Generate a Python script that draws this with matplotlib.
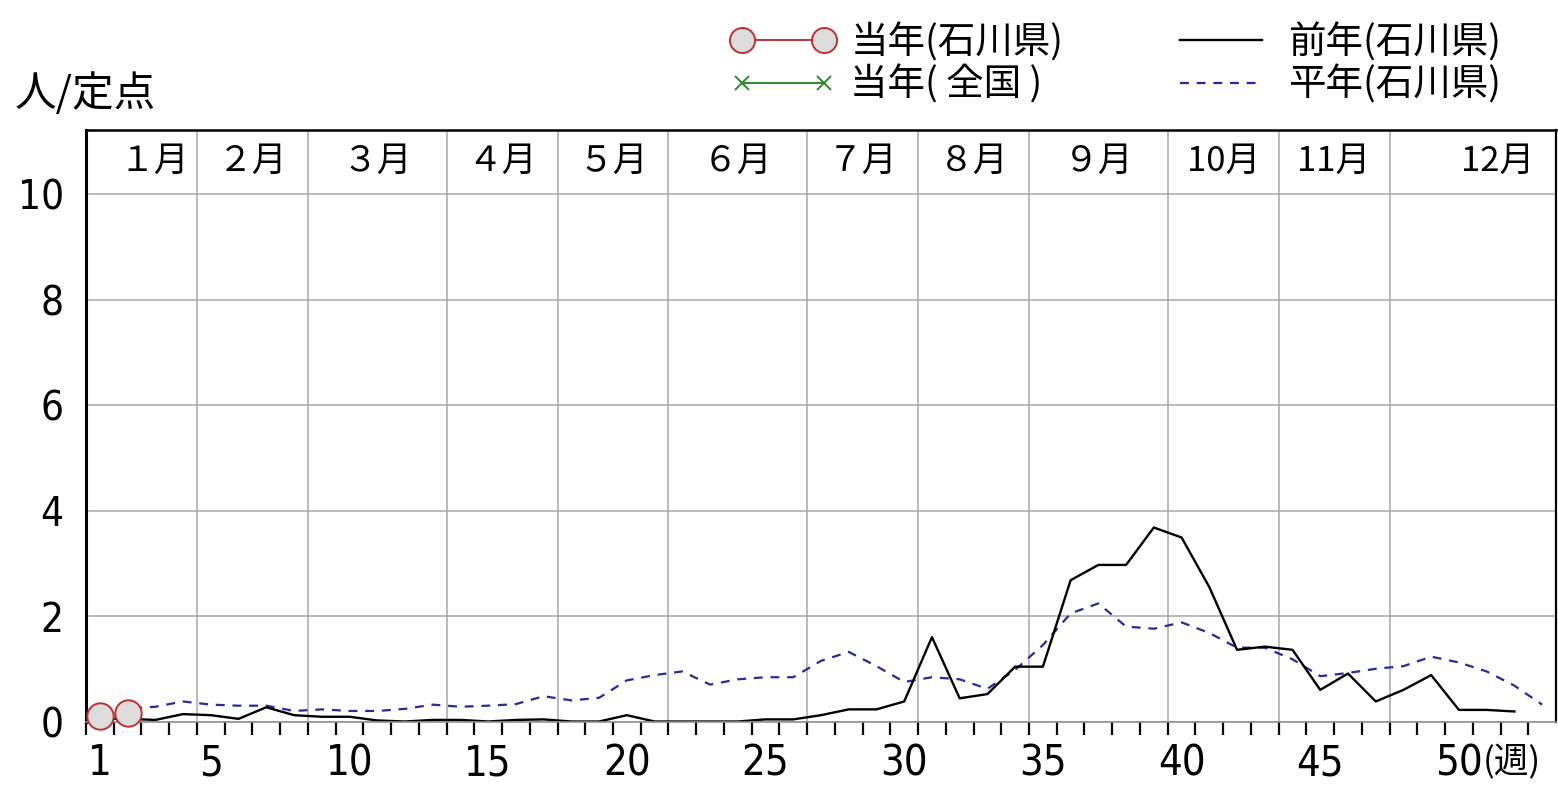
import matplotlib.pyplot as plt
import numpy as np

plt.rcParams['font.family'] = ['Noto Sans CJK JP', 'DejaVu Sans']

# 当年(石川県) - only the first weeks are reported
this_year_pref = [0.10, 0.16]
# 当年(全国) - nothing plotted
this_year_nation = []
# 前年(石川県), weeks 1..52
prev_year = [0.05, 0.05, 0.03, 0.14, 0.12, 0.05, 0.27, 0.12, 0.09, 0.09,
             0.02, 0.00, 0.03, 0.03, 0.00, 0.03, 0.04, 0.00, 0.00, 0.12,
             0.00, 0.00, 0.00, 0.00, 0.04, 0.04, 0.12, 0.23, 0.23, 0.38,
             1.60, 0.44, 0.52, 1.04, 1.04, 2.68, 2.97, 2.97, 3.68, 3.49,
             2.55, 1.36, 1.42, 1.36, 0.60, 0.91, 0.38, 0.60, 0.88, 0.22,
             0.22, 0.19]
# 平年(石川県), weeks 1..53
normal_year = [0.25, 0.25, 0.28, 0.38, 0.32, 0.30, 0.30, 0.20, 0.23, 0.20,
               0.20, 0.24, 0.32, 0.28, 0.30, 0.33, 0.48, 0.40, 0.45, 0.78,
               0.88, 0.95, 0.70, 0.80, 0.84, 0.84, 1.15, 1.32, 1.05, 0.75,
               0.84, 0.80, 0.62, 0.98, 1.45, 2.05, 2.24, 1.80, 1.76, 1.88,
               1.68, 1.40, 1.40, 1.18, 0.86, 0.92, 1.00, 1.05, 1.23, 1.12,
               0.95, 0.68, 0.32]

month_labels = ['１月', '２月', '３月', '４月', '５月', '６月',
                '７月', '８月', '９月', '10月', '11月', '12月']
month_last_week = [4, 8, 13, 17, 21, 26, 30, 34, 39, 43, 47, 53]
week_ticks = [1, 5, 10, 15, 20, 25, 30, 35, 40, 45, 50]

W, H = 1558, 791
fig = plt.figure(figsize=(W / 100, H / 100), dpi=100)
ax = fig.add_axes([86 / W, 1 - 721.5 / H, (1556 - 86) / W, (721.5 - 130) / H])

grid_c = '#a8a8a8'
ax.set_xlim(0.5, 53.5)
ax.set_ylim(0, 11.22)
ax.set_yticks([0, 2, 4, 6, 8, 10])
ax.yaxis.grid(True, color=grid_c, lw=1.1)
for b in month_last_week[:-1]:
    ax.axvline(b + 0.5, color=grid_c, lw=1.1, zorder=0)

# lines
w_norm = np.arange(1, len(normal_year) + 1)
w_prev = np.arange(1, len(prev_year) + 1)
w_this = np.arange(1, len(this_year_pref) + 1)
l_norm, = ax.plot(w_norm, normal_year, color='#2a2a9c', lw=1.6,
                  dashes=(4, 3.5), label='平年(石川県)')
l_prev, = ax.plot(w_prev, prev_year, color='black', lw=1.7,
                  label='前年(石川県)')
l_nat, = ax.plot(np.arange(1, len(this_year_nation) + 1), this_year_nation,
                 color='#2e8b2e', marker='x', ms=10, mew=1.4, lw=1.4,
                 label='当年( 全国 )')
l_this, = ax.plot(w_this, this_year_pref, color='#c03030', marker='o', ms=19,
                  mfc='#dcdcdc', mec='#c03030', mew=1.4, lw=1.4,
                  clip_on=False, zorder=5, label='当年(石川県)')

# month header inside the top band
for i, lab in enumerate(month_labels):
    start = month_last_week[i - 1] + 1 if i > 0 else 1
    end = month_last_week[i]
    if i == 0:
        ax.text(end + 0.2, 10.62, lab, ha='right', va='center', fontsize=25)
    elif i == len(month_labels) - 1:
        ax.text(end - 0.3, 10.62, lab, ha='right', va='center', fontsize=25)
    else:
        ax.text((start + end) / 2, 10.62, lab, ha='center', va='center',
                fontsize=25)

# axes styling
for s in ['left', 'top', 'right']:
    ax.spines[s].set_color('black')
ax.spines['left'].set_linewidth(2.2)
ax.spines['top'].set_linewidth(1.8)
ax.spines['right'].set_linewidth(1.6)
ax.spines['bottom'].set_color('#909090')
ax.spines['bottom'].set_linewidth(1.2)

num_font = ['DejaVu Sans']
ax.set_xticks(week_ticks)
ax.set_xticklabels([str(w) for w in week_ticks], family=num_font,
                   fontsize=30, fontstretch='condensed')
ax.set_xticks(np.arange(0.5, 53, 1), minor=True)
ax.tick_params(axis='x', which='major', length=0, pad=15)
ax.tick_params(axis='x', which='minor', length=9, width=1.6, color='black')
ax.tick_params(axis='y', length=0, pad=16)
for t in ax.get_yticklabels():
    t.set_family(num_font)
    t.set_fontsize(29)
    t.set_fontstretch('condensed')
ax.text(50.85, -0.45, '(週)', ha='left', va='top', fontsize=25,
        transform=ax.transData, clip_on=False)

fig.text(15 / W, 1 - 94 / H, '人/定点', ha='left', va='center', fontsize=30)

fig.legend([l_this, l_nat, l_prev, l_norm],
           ['当年(石川県)', '当年( 全国 )', '前年(石川県)', '平年(石川県)'],
           ncol=2, loc='upper left', bbox_to_anchor=(708 / W, 1 - 1 / H),
           frameon=False, fontsize=27, numpoints=2, handlelength=2.8,
           handletextpad=0.4, columnspacing=2.8, labelspacing=0.08,
           borderpad=0.1, markerscale=0.95)

fig.savefig('out.png', dpi=100)
